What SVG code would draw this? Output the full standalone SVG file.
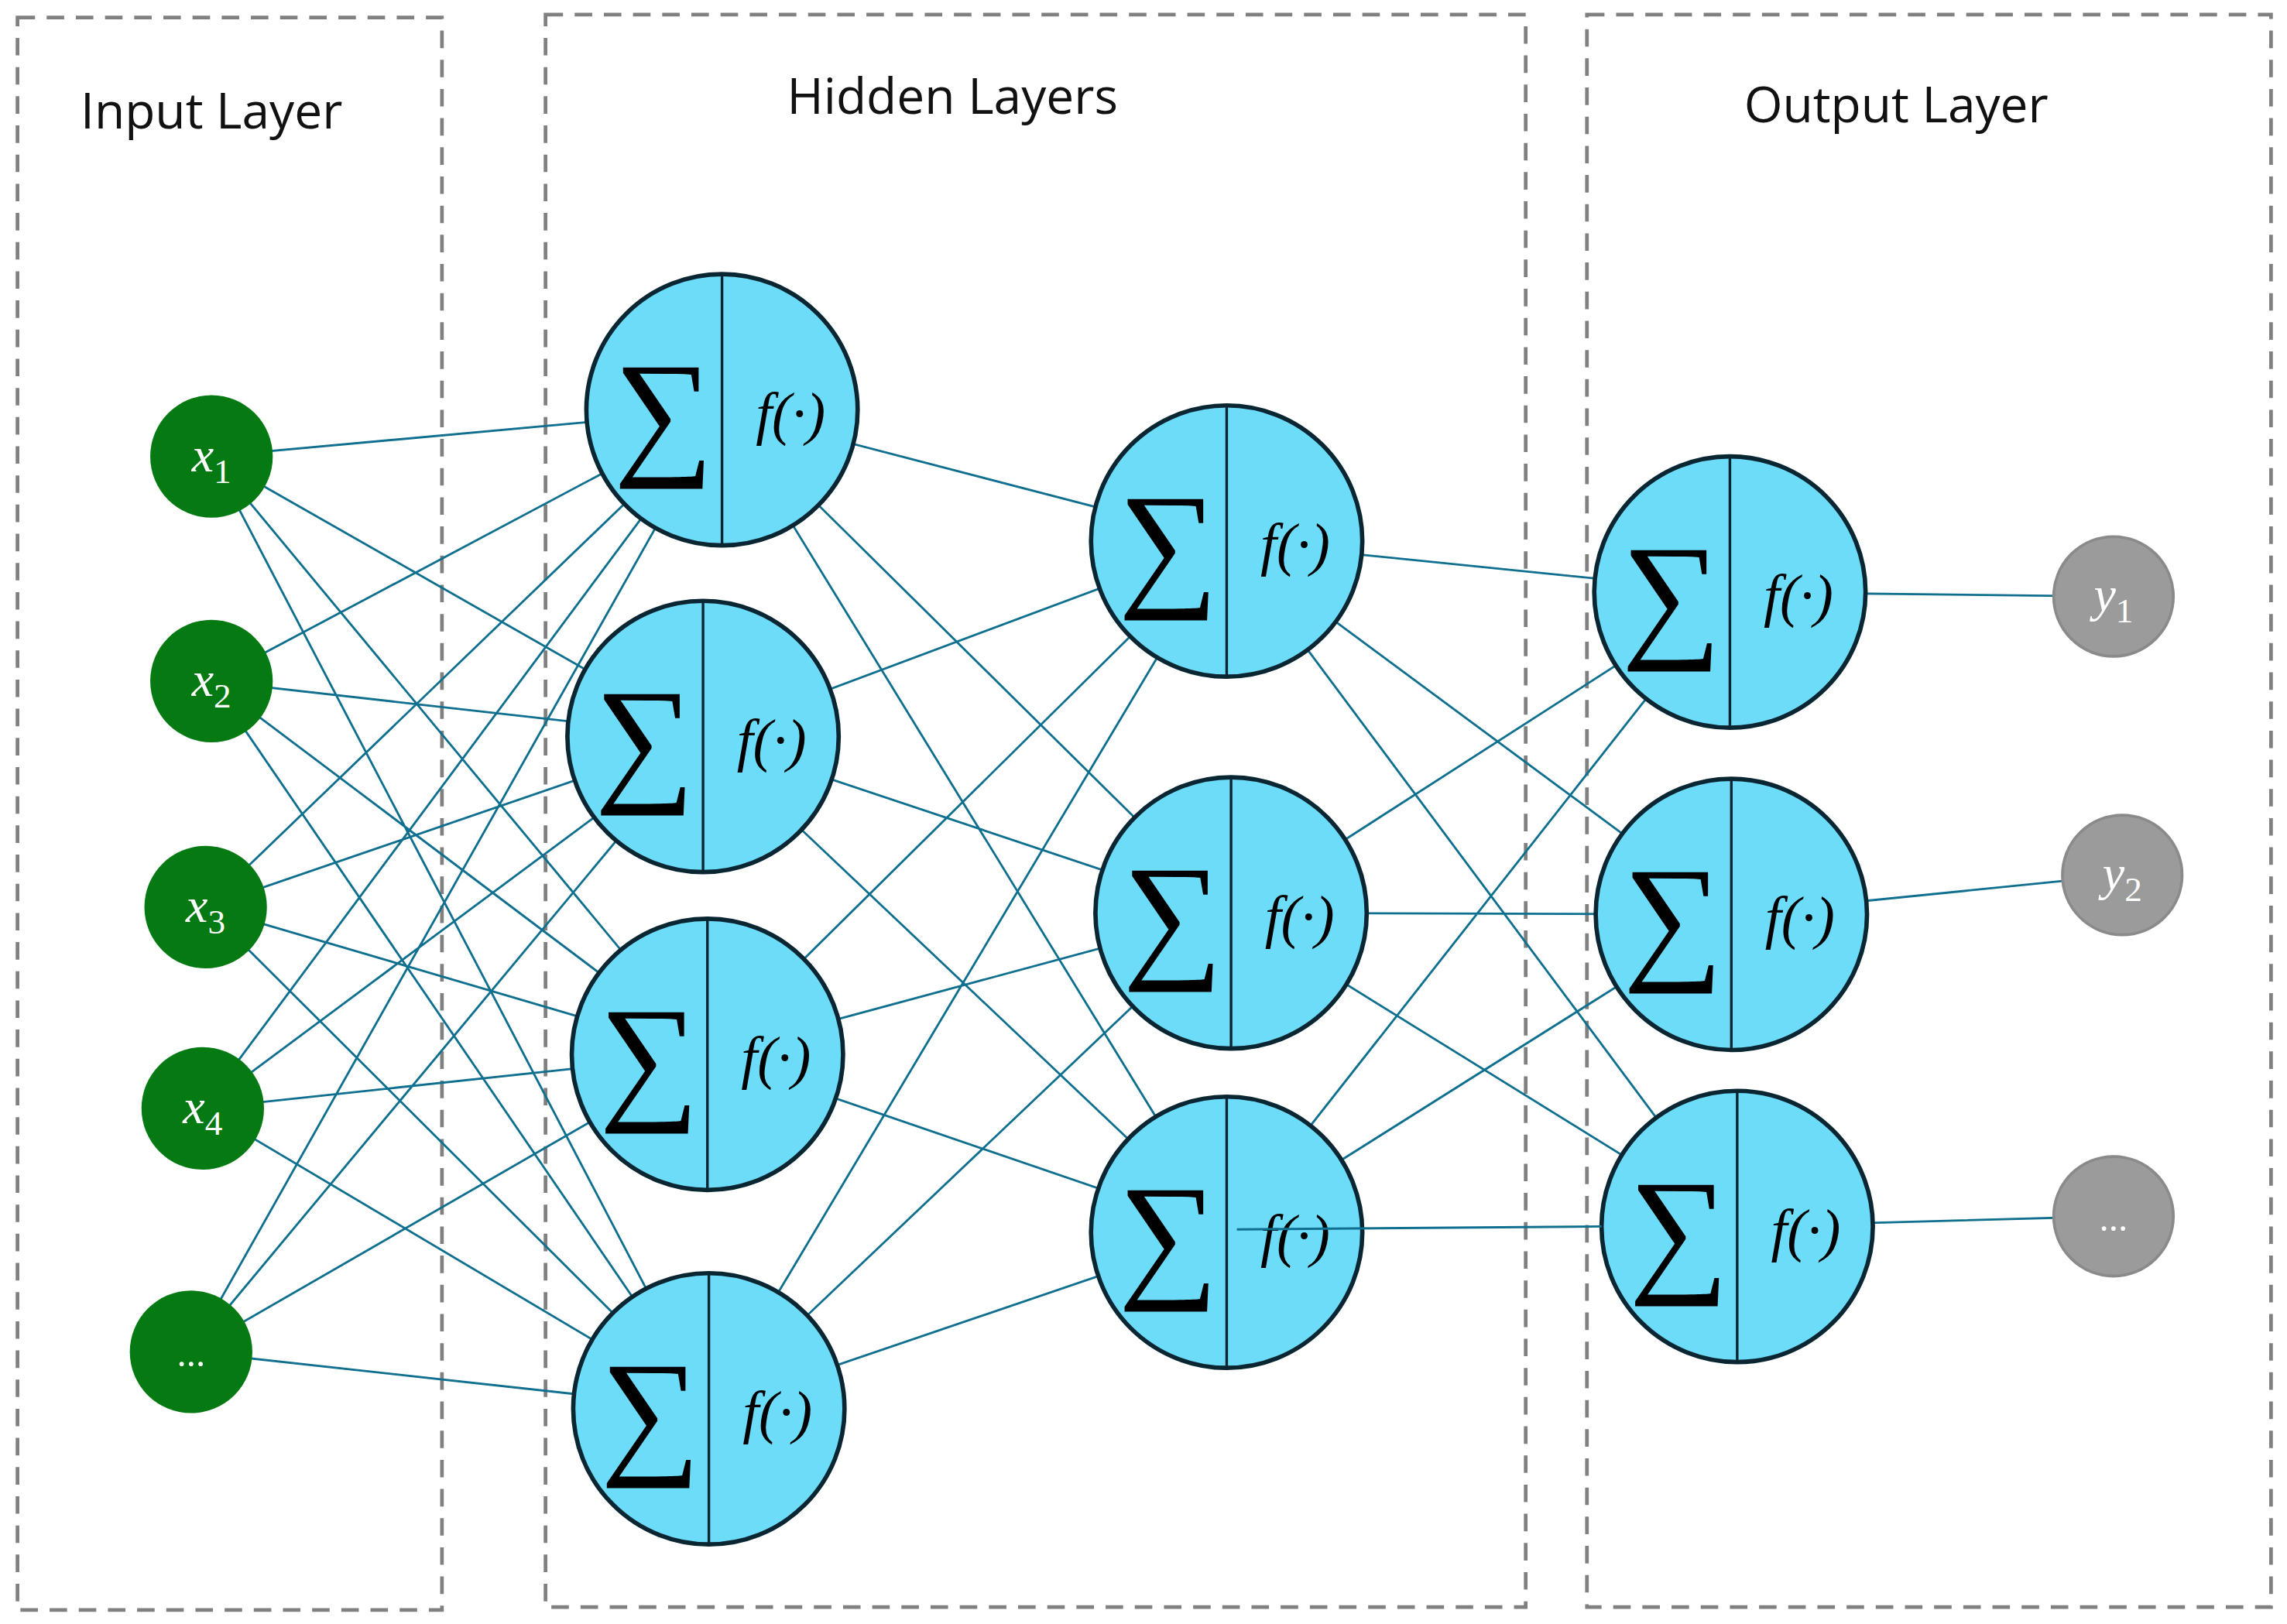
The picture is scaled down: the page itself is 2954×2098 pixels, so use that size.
<svg xmlns="http://www.w3.org/2000/svg" width="2954" height="2098" viewBox="0 0 2954 2098">
<style>
.box{fill:none;stroke:#808080;stroke-width:2.5;stroke-dasharray:12,8}
.title{font-family:"Open Sans","Liberation Sans",sans-serif;font-size:34px;fill:#111;text-anchor:middle}
.c{stroke:#0f6f8f;stroke-width:1.5;fill:none}
.in{fill:#057a12}
.out{fill:#9b9b9b;stroke:#8a8a8a;stroke-width:2}
.hn{fill:#6ddcf8;stroke:#0a2633;stroke-width:3}
.dv{stroke:#0a2633;stroke-width:1.8}
.sig{font-family:"Liberation Serif",serif;font-size:96px;fill:#000;text-anchor:middle}
.f{font-family:"Liberation Serif",serif;font-style:italic;font-size:40px;fill:#000;text-anchor:middle}
.lab{font-family:"Liberation Serif",serif;font-style:italic;font-size:34px;fill:#fff;text-anchor:middle}
.sub{font-style:normal;font-size:24px}
</style>
<rect width="2954" height="2098" fill="#fff"/>
<g transform="scale(1.884)">
<g id="frames">
<rect class="box" x="12" y="12" width="291" height="1092"/>
<rect class="box" x="374" y="10" width="672" height="1092"/>
<rect class="box" x="1088" y="10" width="469" height="1092"/>
<text class="title" x="145" y="88">Input Layer</text>
<text class="title" x="653" y="78">Hidden Layers</text>
<text class="title" x="1300" y="84">Output Layer</text>
</g>
<g id="connectors">
<path class="c" d="M145,313L495,281M145,313L482,505M145,313L485,723M145,313L486,966
M145,467L495,281M145,467L482,505M145,467L485,723M145,467L486,966
M141,622L495,281M141,622L482,505M141,622L485,723M141,622L486,966
M139,760L495,281M139,760L482,505M139,760L485,723M139,760L486,966
M131,927L495,281M131,927L482,505M131,927L485,723M131,927L486,966
M495,281L841,371M495,281L844,626M495,281L841,845
M482,505L841,371M482,505L844,626M482,505L841,845
M485,723L841,371M485,723L844,626M485,723L841,845
M486,966L841,371M486,966L844,626M486,966L841,845
M841,371L1186,406M841,371L1187,627M841,371L1191,841
M844,626L1186,406M844,626L1187,627M844,626L1191,841
M841,845L1186,406M841,845L1187,627
M1186,406L1449,409M1187,627L1455,600M1191,841L1449,834"/>
</g>
<g id="in1"><circle class="in" cx="145" cy="313" r="42"/><text class="lab" x="145" y="323">x<tspan class="sub" dy="8">1</tspan></text></g>
<g id="in2"><circle class="in" cx="145" cy="467" r="42"/><text class="lab" x="145" y="477">x<tspan class="sub" dy="8">2</tspan></text></g>
<g id="in3"><circle class="in" cx="141" cy="622" r="42"/><text class="lab" x="141" y="632">x<tspan class="sub" dy="8">3</tspan></text></g>
<g id="in4"><circle class="in" cx="139" cy="760" r="42"/><text class="lab" x="139" y="770">x<tspan class="sub" dy="8">4</tspan></text></g>
<g id="in5"><circle class="in" cx="131" cy="927" r="42"/><text class="lab" x="131" y="937" style="font-style:normal;font-size:26px">...</text></g>
<g id="h1a"><circle class="hn" cx="495" cy="281" r="93"/><line class="dv" x1="495" y1="188" x2="495" y2="374"/><text class="sig" x="455" y="315">∑</text><text class="f" x="542" y="297">f(·)</text></g>
<g id="h1b"><circle class="hn" cx="482" cy="505" r="93"/><line class="dv" x1="482" y1="412" x2="482" y2="598"/><text class="sig" x="442" y="539">∑</text><text class="f" x="529" y="521">f(·)</text></g>
<g id="h1c"><circle class="hn" cx="485" cy="723" r="93"/><line class="dv" x1="485" y1="630" x2="485" y2="816"/><text class="sig" x="445" y="757">∑</text><text class="f" x="532" y="739">f(·)</text></g>
<g id="h1d"><circle class="hn" cx="486" cy="966" r="93"/><line class="dv" x1="486" y1="873" x2="486" y2="1059"/><text class="sig" x="446" y="1000">∑</text><text class="f" x="533" y="982">f(·)</text></g>
<g id="h2a"><circle class="hn" cx="841" cy="371" r="93"/><line class="dv" x1="841" y1="278" x2="841" y2="464"/><text class="sig" x="801" y="405">∑</text><text class="f" x="888" y="387">f(·)</text></g>
<g id="h2b"><circle class="hn" cx="844" cy="626" r="93"/><line class="dv" x1="844" y1="533" x2="844" y2="719"/><text class="sig" x="804" y="660">∑</text><text class="f" x="891" y="642">f(·)</text></g>
<g id="h2c"><circle class="hn" cx="841" cy="845" r="93"/><line class="dv" x1="841" y1="752" x2="841" y2="938"/><text class="sig" x="801" y="879">∑</text><text class="f" x="888" y="861">f(·)</text></g>
<g id="o1"><circle class="hn" cx="1186" cy="406" r="93"/><line class="dv" x1="1186" y1="313" x2="1186" y2="499"/><text class="sig" x="1146" y="440">∑</text><text class="f" x="1233" y="422">f(·)</text></g>
<g id="o2"><circle class="hn" cx="1187" cy="627" r="93"/><line class="dv" x1="1187" y1="534" x2="1187" y2="720"/><text class="sig" x="1147" y="661">∑</text><text class="f" x="1234" y="643">f(·)</text></g>
<g id="o3"><circle class="hn" cx="1191" cy="841" r="93"/><line class="dv" x1="1191" y1="748" x2="1191" y2="934"/><text class="sig" x="1151" y="875">∑</text><text class="f" x="1238" y="857">f(·)</text></g>
<g id="connector-top"><path class="c" d="M848,843L1098,841"/></g>
<g id="y1"><circle class="out" cx="1449" cy="409" r="41"/><text class="lab" x="1449" y="419">y<tspan class="sub" dy="8">1</tspan></text></g>
<g id="y2"><circle class="out" cx="1455" cy="600" r="41"/><text class="lab" x="1455" y="610">y<tspan class="sub" dy="8">2</tspan></text></g>
<g id="y3"><circle class="out" cx="1449" cy="834" r="41"/><text class="lab" x="1449" y="844" style="font-style:normal;font-size:26px">...</text></g>
</g>
</svg>
